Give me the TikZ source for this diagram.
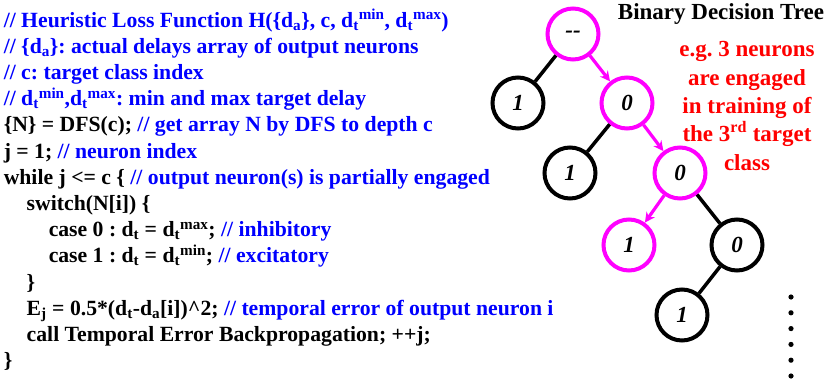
\documentclass[tikz,border=0pt]{standalone}
\usepackage{fontspec}
\setmainfont{Liberation Serif}
\usetikzlibrary{arrows.meta}
\definecolor{cblue}{HTML}{0000FF}
\definecolor{cred}{HTML}{FF0000}
\definecolor{cpink}{HTML}{FF00FF}
\frenchspacing
\newcommand{\cmt}[1]{\textcolor{cblue}{#1}}
\newcommand{\dsub}[1]{d\textsubscript{#1}}
\newcommand{\dtsup}[1]{d\textsubscript{t}\textsuperscript{#1}}
\tikzset{
  every picture/.style={x=1pt, y=-1pt, line width=3.5pt},
  code/.style={anchor=base west, inner sep=0pt, font=\fontsize{21.7}{26}\selectfont\bfseries},
  neuron/.style={circle, draw=#1, line width=4pt, minimum size=51pt, inner sep=0pt, font=\fontsize{23}{26}\selectfont\bfseries\itshape},
  neuron/.default=black,
  edge/.style={draw=black, line width=3.5pt},
  walk/.style={-{Stealth[length=10pt, width=10pt]}, draw=cpink, line width=3.2pt},
  title/.style={anchor=base, inner sep=0pt, font=\fontsize{23}{28}\selectfont\bfseries},
  note/.style={anchor=base, inner sep=0pt, font=\fontsize{23}{28.3}\selectfont\bfseries, text=cred, align=center},
}
\begin{document}
\begin{tikzpicture}
  \useasboundingbox (0,0) rectangle (830,386);
  % pseudo code
  \node[code] (l1) at (2,27) {\cmt{// Heuristic Loss Function H(\{\dsub{a}\}, c, \dtsup{min}, \dtsup{max})}};
  \node[code] (l2) at (2,53.2) {\cmt{// \{\dsub{a}\}: actual delays array of output neurons}};
  \node[code] (l3) at (2,79.4) {\cmt{// c: target class index}};
  \node[code] (l4) at (2,105.6) {\cmt{// \dtsup{min},\dtsup{max}: min and max target delay}};
  \node[code] (l5) at (2,131.8) {\{N\} = DFS(c); \cmt{// get array N by DFS to depth c}};
  \node[code] (l6) at (2,158) {j = 1; \cmt{// neuron index}};
  \node[code] (l7) at (2,184.2) {while j <= c \{ \cmt{// output neuron(s) is partially engaged}};
  \node[code] (l8) at (25,210.4) {switch(N[i]) \{};
  \node[code] (l9) at (47,236.6) {case 0 : \dsub{t} = \dtsup{max}; \cmt{// inhibitory}};
  \node[code] (l10) at (47,262.8) {case 1 : \dsub{t} = \dtsup{min}; \cmt{// excitatory}};
  \node[code] (l11) at (25,289) {\}};
  \node[code] (l12) at (25,315.2) {E\textsubscript{j} = 0.5*(\dsub{t}-\dsub{a}[i])\textasciicircum2; \cmt{// temporal error of output neuron i}};
  \node[code] (l13) at (25,341.4) {call Temporal Error Backpropagation; ++j;};
  \node[code] (l14) at (2,367.6) {\}};
  % decision tree
  \node[title] (ttl) at (721,19) {Binary Decision Tree};
  \node[note] (eg) at (747,170) {e.g. 3 neurons\\are engaged\\in training of\\the 3\textsuperscript{rd} target\\class};
  \node[neuron=cpink] (root) at (573,34) {-{}-};
  \node[neuron] (a1) at (518,103) {1};
  \node[neuron=cpink] (b0) at (627,103) {0};
  \node[neuron] (c1) at (570,173) {1};
  \node[neuron=cpink] (d0) at (680,173) {0};
  \node[neuron=cpink] (e1) at (629,245) {1};
  \node[neuron] (f0) at (737,245) {0};
  \node[neuron] (g1) at (682,315) {1};
  \draw[edge] (root) -- (a1);
  \draw[edge] (b0) -- (c1);
  \draw[edge] (d0) -- (f0);
  \draw[edge] (f0) -- (g1);
  \draw[walk] (root) -- (b0);
  \draw[walk] (b0) -- (d0);
  \draw[walk] (d0) -- (e1);
  % more levels below
  \foreach \k in {0,...,5} \fill (791,297+15.8*\k) circle (2.6pt);
\end{tikzpicture}
\end{document}
